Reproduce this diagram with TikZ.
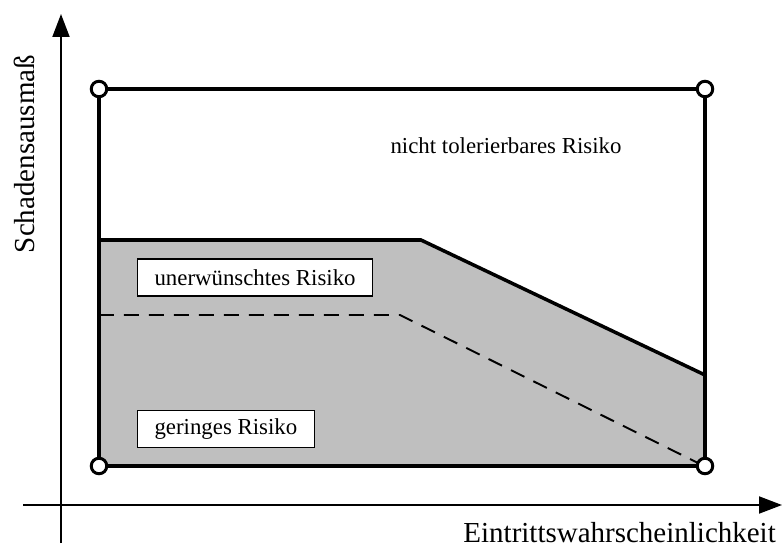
\documentclass[tikz,border=0pt]{standalone}
\usepackage{fontspec}
\setmainfont{Liberation Serif}
\usepackage{tikz}
\usetikzlibrary{arrows.meta}

\begin{document}
\begin{tikzpicture}[x=0.02cm,y=-0.02cm,
    corner/.style={circle,draw,fill=white,line width=1.7pt,inner sep=0pt,minimum size=0.31cm},
    zone/.style={draw,fill=white,line width=0.6pt,inner xsep=0.34cm,minimum height=0.74cm,anchor=west,font=\fontsize{13}{15}\selectfont},
    axis/.style={line width=1.1pt,-{Triangle[length=0.46cm,width=0.34cm]}}]
\useasboundingbox (0,0) rectangle (784,548);
% axes
\coordinate (xs) at (23,505);
\coordinate (xe) at (782,505);
\coordinate (ys) at (61,543);
\coordinate (ye) at (61,14);
\draw[axis] (xs) -- (xe);
\draw[axis] (ys) -- (ye);
\node[rotate=90,font=\fontsize{16.5}{18}\selectfont] (ylab) at (24,154) {Schadensausmaß};
\node[anchor=east,font=\fontsize{16.5}{18}\selectfont] (xlab) at (782,533) {Eintrittswahrscheinlichkeit};
% shaded area
\coordinate (a) at (99,240);
\coordinate (b) at (421,240);
\coordinate (c) at (705,375);
\coordinate (d) at (99,315);
\coordinate (e) at (400,315);
\fill[gray!50] (a) -- (b) -- (c) -- (705,466) -- (99,466) -- cycle;
\draw[line width=2pt] (a) -- (b) -- (c);
\draw[line width=1.1pt,dash pattern=on 0.3cm off 0.2cm] (d) -- (e) -- (700,464);
% frame
\node[corner] (tl) at (99,89) {};
\node[corner] (tr) at (705,89) {};
\node[corner] (bl) at (99,466) {};
\node[corner] (br) at (705,466) {};
\draw[line width=2pt] (tl) -- (tr) -- (br) -- (bl) -- (tl);
% labels
\node[font=\fontsize{13}{15}\selectfont] (nt) at (506,146) {nicht tolerierbares Risiko};
\node[zone] (uw) at (137,277.5) {unerwünschtes Risiko};
\node[zone] (gr) at (137,429) {geringes Risiko};
\end{tikzpicture}
\end{document}
